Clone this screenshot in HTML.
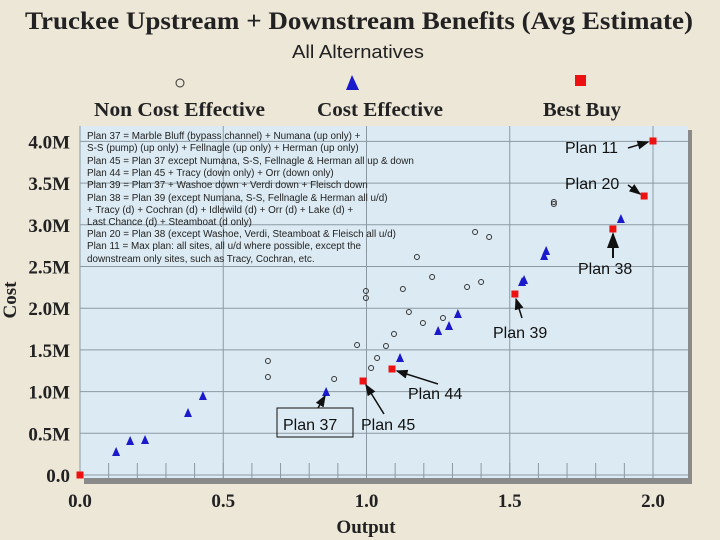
<!DOCTYPE html>
<html><head><meta charset="utf-8"><style>
body{margin:0;width:720px;height:540px;overflow:hidden;background:#ece6d6;}
svg{display:block;}
</style></head><body>
<svg id="chart" width="720" height="540" xmlns="http://www.w3.org/2000/svg">
<rect x="0" y="0" width="720" height="540" fill="#ede7d8"/>
<text x="25" y="29" textLength="668" lengthAdjust="spacingAndGlyphs" font-family="Liberation Serif, serif" font-weight="bold" font-size="25" fill="#222">Truckee Upstream + Downstream Benefits (Avg Estimate)</text>
<text x="292" y="58" textLength="132" lengthAdjust="spacingAndGlyphs" font-family="Liberation Sans, sans-serif" font-size="18" fill="#222">All Alternatives</text>
<g>
<circle cx="180" cy="83" r="4" fill="none" stroke="#333" stroke-width="1"/>
<polygon points="352,75 346,90 359,90" fill="#1a1acc"/>
<rect x="575" y="75" width="11" height="11" fill="#ee1111"/>
<text x="94" y="116" textLength="171" lengthAdjust="spacingAndGlyphs" font-family="Liberation Serif, serif" font-weight="bold" font-size="20" fill="#222">Non Cost Effective</text>
<text x="317" y="116" textLength="126" lengthAdjust="spacingAndGlyphs" font-family="Liberation Serif, serif" font-weight="bold" font-size="20" fill="#222">Cost Effective</text>
<text x="543" y="116" textLength="78" lengthAdjust="spacingAndGlyphs" font-family="Liberation Serif, serif" font-weight="bold" font-size="20" fill="#222">Best Buy</text>
</g>
<rect x="84" y="130" width="608" height="354" fill="#8a8a8a"/>
<rect x="80" y="126" width="608" height="352" fill="#dcebf3"/>
<g id="grid"></g>
<g id="axes"></g>
<text transform="translate(16,300) rotate(-90)" text-anchor="middle" font-family="Liberation Serif, serif" font-weight="bold" font-size="19" fill="#222">Cost</text>
<text x="366" y="533" text-anchor="middle" font-family="Liberation Serif, serif" font-weight="bold" font-size="19" fill="#222">Output</text>
<g font-family="Liberation Sans, sans-serif" font-size="9.9" fill="#222">
<text x="87" y="139">Plan 37 = Marble Bluff (bypass channel) + Numana (up only) +</text>
<text x="87" y="151">S-S (pump) (up only) + Fellnagle (up only) + Herman (up only)</text>
<text x="87" y="164">Plan 45 = Plan 37 except Numana, S-S, Fellnagle &amp; Herman all up &amp; down</text>
<text x="87" y="176">Plan 44 = Plan 45 + Tracy (down only) + Orr (down only)</text>
<text x="87" y="188">Plan 39 = Plan 37 + Washoe down + Verdi down + Fleisch down</text>
<text x="87" y="201">Plan 38 = Plan 39 (except Numana, S-S, Fellnagle &amp; Herman all u/d)</text>
<text x="87" y="213">+ Tracy (d) + Cochran (d) + Idlewild (d) + Orr (d) + Lake (d) +</text>
<text x="87" y="225">Last Chance (d) + Steamboat (d only)</text>
<text x="87" y="237">Plan 20 = Plan 38 (except Washoe, Verdi, Steamboat &amp; Fleisch all u/d)</text>
<text x="87" y="249">Plan 11 = Max plan:  all sites, all u/d where possible, except the</text>
<text x="87" y="262">downstream only sites, such as Tracy, Cochran, etc.</text>
</g>
<g id="marks"></g>
<g font-family="Liberation Sans, sans-serif" font-size="16" fill="#111">
<defs><marker id="ah" markerWidth="8" markerHeight="8" refX="7" refY="4" orient="auto"><path d="M0,1 L8,4 L0,7 Z" fill="#111"/></marker></defs>
<text x="565" y="153">Plan 11</text>
<line x1="628" y1="148" x2="648" y2="142" stroke="#111" stroke-width="1.5" marker-end="url(#ah)"/>
<text x="565" y="189">Plan 20</text>
<line x1="628" y1="185" x2="640" y2="194" stroke="#111" stroke-width="1.5" marker-end="url(#ah)"/>
<text x="578" y="274">Plan 38</text>
<line x1="613" y1="258" x2="613" y2="234" stroke="#111" stroke-width="2" marker-end="url(#ah)"/>
<text x="493" y="338">Plan 39</text>
<line x1="522" y1="318" x2="516" y2="299" stroke="#111" stroke-width="1.5" marker-end="url(#ah)"/>
<text x="408" y="399">Plan 44</text>
<line x1="438" y1="384" x2="397" y2="371" stroke="#111" stroke-width="1.5" marker-end="url(#ah)"/>
<text x="361" y="430">Plan 45</text>
<line x1="384" y1="414" x2="366" y2="385" stroke="#111" stroke-width="1.5" marker-end="url(#ah)"/>
<rect x="277" y="408" width="76" height="29" fill="none" stroke="#111" stroke-width="1"/>
<text x="283" y="430">Plan 37</text>
<line x1="318" y1="408" x2="325" y2="396" stroke="#111" stroke-width="1.5" marker-end="url(#ah)"/>
</g>
</svg>
<script>
const xTicks=[0,0.5,1.0,1.5,2.0];
const xTickLabels=["0.0","0.5","1.0","1.5","2.0"];
const yTicks=[0,0.5,1.0,1.5,2.0,2.5,3.0,3.5,4.0];
const yTickLabels=["0.0","0.5M","1.0M","1.5M","2.0M","2.5M","3.0M","3.5M","4.0M"];
const nonCostX=[0.656,0.656,0.887,0.967,1.016,1.037,1.068,1.096,1.148,1.197,1.267,0.998,0.998,1.127,1.229,1.351,1.400,1.176,1.379,1.428,1.654,1.654];
const nonCostY=[1.367,1.175,1.151,1.559,1.283,1.403,1.547,1.691,1.954,1.823,1.883,2.206,2.122,2.230,2.374,2.254,2.314,2.614,2.914,2.854,3.273,3.25];
const costEffX=[0.126,0.175,0.227,0.377,0.429,0.859,1.117,1.250,1.288,1.319,1.543,1.550,1.620,1.627,1.888];
const costEffY=[0.276,0.408,0.420,0.743,0.947,0.995,1.403,1.727,1.787,1.930,2.314,2.338,2.626,2.686,3.070];
const bestBuyX=[0,0.988,1.089,1.518,1.860,1.969,2.000];
const bestBuyY=[0,1.127,1.271,2.170,2.950,3.345,4.005];
const X0=80,XS=286.5,Y0=475,YS=83.4;
function sx(v){return X0+v*XS;}
function sy(v){return Y0-v*YS;}
const NS="http://www.w3.org/2000/svg";
function mk(tag,attrs,parent){const e=document.createElementNS(NS,tag);for(const k in attrs)e.setAttribute(k,attrs[k]);parent.appendChild(e);return e;}
const grid=document.getElementById('grid'),axes=document.getElementById('axes'),marks=document.getElementById('marks');
yTicks.forEach((t,i)=>{
  const l=mk('line',{x1:80,x2:688,y1:sy(t),y2:sy(t),stroke:'#8c99a3','stroke-width':1},grid);
  
  
  const tx=mk('text',{x:70,y:sy(t)+7,'text-anchor':'end','font-family':'Liberation Serif, serif','font-weight':'bold','font-size':19,fill:'#222'},axes);
  tx.textContent=yTickLabels[i];
  
  
});
xTicks.forEach((t,i)=>{
  const l=mk('line',{x1:sx(t),x2:sx(t),y1:126,y2:478,stroke:'#8c99a3','stroke-width':1},grid);
  
  
  const tx=mk('text',{x:sx(t),y:507,'text-anchor':'middle','font-family':'Liberation Serif, serif','font-weight':'bold','font-size':19,fill:'#222'},axes);
  tx.textContent=xTickLabels[i];
  
  
});
for(let k=1;k<21;k++){
  const v=k*0.1;
  const l=mk('line',{x1:sx(v),x2:sx(v),y1:463,y2:478,stroke:'#8c99a3','stroke-width':1},grid);
  
  
}
nonCostX.forEach((x,i)=>{
  const c=mk('circle',{cx:sx(x),cy:sy(nonCostY[i]),r:2.5,fill:'none',stroke:'#333','stroke-width':1},marks);
  
  
});
costEffX.forEach((x,i)=>{
  const px=sx(x),py=sy(costEffY[i]);
  const p=mk('polygon',{points:`${px},${py-5} ${px-4},${py+4} ${px+4},${py+4}`,fill:'#1a1acc'},marks);
  
  
});
bestBuyX.forEach((x,i)=>{
  const px=sx(x),py=sy(bestBuyY[i]);
  const r=mk('rect',{x:px-3.5,y:py-3.5,width:7,height:7,fill:'#ee1111'},marks);
  
  
});
</script>
</body></html>
